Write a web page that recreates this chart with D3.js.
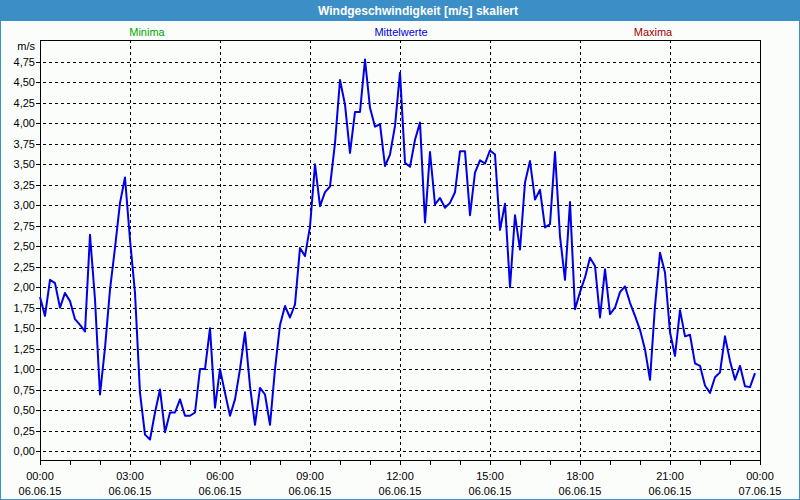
<!DOCTYPE html>
<html><head><meta charset="utf-8">
<script src="https://cdn.jsdelivr.net/npm/d3@7"></script>
<style>
html,body{margin:0;padding:0;background:#fff;}
svg{display:block;font-family:"Liberation Sans",Arial,sans-serif;}
</style></head>
<body>
<svg id="chart" width="800" height="500"></svg>
<script>
// ---- data ----
const title = "Windgeschwindigkeit [m/s] skaliert";
const legendLabels = ["Minima", "Mittelwerte", "Maxima"];
const legendColors = ["#00a800", "#0000e0", "#a00000"];
const unitLabel = "m/s";
const yTicks = [0,0.25,0.5,0.75,1,1.25,1.5,1.75,2,2.25,2.5,2.75,3,3.25,3.5,3.75,4,4.25,4.5,4.75];
const xTickHours = [0,3,6,9,12,15,18,21,24];
const xTimeLabels = ["00:00","03:00","06:00","09:00","12:00","15:00","18:00","21:00","00:00"];
const xDateLabels = ["06.06.15","06.06.15","06.06.15","06.06.15","06.06.15","06.06.15","06.06.15","06.06.15","07.06.15"];
const stepMinutes = 10;
// Mittelwerte, 10-minute values from 00:00 to 23:50
const mittelwerte = [
1.88,1.65,2.09,2.05,1.75,1.93,1.83,1.61,1.54,1.46,
2.64,1.85,0.69,1.26,1.97,2.48,3.03,3.34,2.58,1.93,
0.71,0.20,0.14,0.47,0.75,0.23,0.47,0.47,0.63,0.43,
0.43,0.47,1.00,1.00,1.50,0.53,1.00,0.71,0.43,0.63,
1.00,1.45,0.79,0.32,0.77,0.69,0.32,1.00,1.54,1.77,
1.63,1.79,2.48,2.38,2.74,3.50,2.99,3.16,3.23,3.76,
4.53,4.23,3.64,4.14,4.14,4.78,4.19,3.96,3.99,3.48,
3.62,3.97,4.62,3.52,3.47,3.80,4.01,2.79,3.65,3.01,
3.09,2.97,3.03,3.16,3.66,3.66,2.88,3.40,3.55,3.51,
3.67,3.62,2.70,3.02,2.00,2.88,2.46,3.28,3.54,3.07,
3.19,2.73,2.77,3.65,2.62,2.09,3.04,1.73,1.94,2.12,
2.36,2.26,1.63,2.22,1.67,1.75,1.94,2.01,1.81,1.65,
1.48,1.24,0.87,1.77,2.42,2.18,1.45,1.16,1.72,1.40,
1.42,1.07,1.04,0.80,0.71,0.90,0.96,1.40,1.10,0.87,
1.04,0.79,0.78,0.95
];

// ---- drawing ----
const svg = d3.select("#chart");
const W = 800, H = 500;
const L = 40, R = 760, T = 40, B = 460;

svg.append("rect").attr("x",0).attr("y",0).attr("width",W).attr("height",H).attr("fill","#fbfdfb");
// title bar
svg.append("rect").attr("x",0).attr("y",0).attr("width",W).attr("height",21).attr("fill","#3b8fc6");
svg.append("rect").attr("x",0.5).attr("y",0.5).attr("width",W-1).attr("height",H-1)
  .attr("fill","none").attr("stroke","#3b8fc6").attr("stroke-width",1);
svg.append("text").attr("x",418).attr("y",15).attr("text-anchor","middle")
  .attr("fill","#fff").attr("font-weight","bold").attr("font-size","12px").text(title);

// legend
const legX = [147, 401, 653];
legendLabels.forEach((t,i)=>{
  svg.append("text").attr("x",legX[i]).attr("y",36).attr("text-anchor","middle")
    .attr("fill",legendColors[i]).attr("font-size","11px").text(t);
});

const x = d3.scaleLinear().domain([0,24]).range([L,R]);
const y = d3.scaleLinear().domain([0,4.75]).range([451,62]);
const snap = v => Math.round(v)+0.5;

// grid
const g = svg.append("g");
yTicks.forEach(v=>{
  g.append("line").attr("x1",L-3).attr("x2",R).attr("y1",snap(y(v))).attr("y2",snap(y(v)))
    .attr("stroke","#000").attr("stroke-width",1).attr("stroke-dasharray","3,3");
  g.append("line").attr("x1",L-4).attr("x2",L).attr("y1",snap(y(v))).attr("y2",snap(y(v)))
    .attr("stroke","#000");
  svg.append("text").attr("x",35).attr("y",y(v)+4).attr("text-anchor","end")
    .attr("font-size","11px").attr("fill","#000")
    .text(d3.format(".2f")(v).replace(".",","));
});
svg.append("text").attr("x",35).attr("y",50).attr("text-anchor","end")
  .attr("font-size","11px").attr("fill","#000").text(unitLabel);

xTickHours.forEach((h,i)=>{
  if(h>0 && h<24){
    g.append("line").attr("x1",snap(x(h))).attr("x2",snap(x(h))).attr("y1",T).attr("y2",B)
      .attr("stroke","#000").attr("stroke-dasharray","3,3");
  }
  svg.append("text").attr("x",x(h)).attr("y",480).attr("text-anchor","middle")
    .attr("font-size","11px").attr("fill","#000").text(xTimeLabels[i]);
  svg.append("text").attr("x",x(h)).attr("y",495).attr("text-anchor","middle")
    .attr("font-size","11px").attr("fill","#000").text(xDateLabels[i]);
});
// hourly ticks below axis
d3.range(0,25).forEach(h=>{
  svg.append("line").attr("x1",snap(x(h))).attr("x2",snap(x(h))).attr("y1",B).attr("y2",B+5)
    .attr("stroke","#000");
});

// frame
svg.append("rect").attr("x",L+0.5).attr("y",T+0.5).attr("width",R-L).attr("height",B-T)
  .attr("fill","none").attr("stroke","#000").attr("stroke-width",1);

// line
const line = d3.line().x((d,i)=>x(i*stepMinutes/60)).y(d=>y(d));
svg.append("path").datum(mittelwerte).attr("d",line)
  .attr("fill","none").attr("stroke","#0000e6").attr("stroke-width",2)
  .attr("stroke-linejoin","round");
</script>
</body></html>
